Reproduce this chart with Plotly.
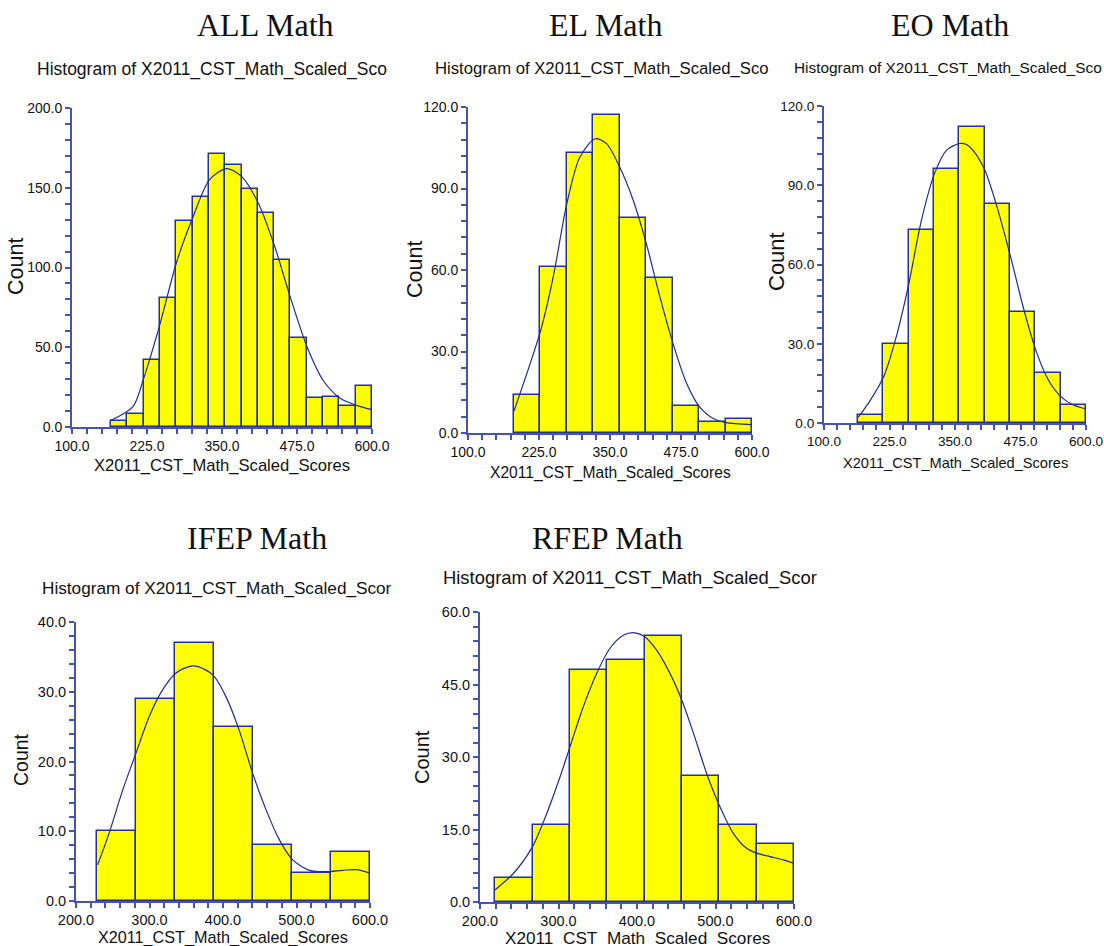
import plotly.graph_objects as go

W, H = 1104, 946

# ---------------- data ----------------
titles = ["ALL Math", "EL Math", "EO Math", "IFEP Math", "RFEP Math"]
subtitles = ["Histogram of X2011_CST_Math_Scaled_Sco",
             "Histogram of X2011_CST_Math_Scaled_Sco",
             "Histogram of X2011_CST_Math_Scaled_Sco",
             "Histogram of X2011_CST_Math_Scaled_Scor",
             "Histogram of X2011_CST_Math_Scaled_Scor"]
x_title = "X2011_CST_Math_Scaled_Scores"
y_title = "Count"

# histogram bins: first left edge, last right edge, counts
all_bin_lo, all_bin_hi = 165.0, 600.0
all_counts = [4, 8, 42, 81, 129, 144, 171, 164, 149, 134, 105, 56, 18, 19, 13, 26]
el_bin_lo, el_bin_hi = 181.0, 600.0
el_counts = [14, 61, 103, 117, 79, 57, 10, 4, 5]
eo_bin_lo, eo_bin_hi = 165.0, 600.0
eo_counts = [3, 30, 73, 96, 112, 83, 42, 19, 7]
ifep_bin_lo, ifep_bin_hi = 228.5, 600.0
ifep_counts = [10, 29, 37, 25, 8, 4, 7]
rfep_bin_lo, rfep_bin_hi = 219.5, 600.0
rfep_counts = [5, 16, 48, 50, 55, 26, 16, 12]

# density trace
all_curve_x = [165, 202, 219, 247, 274, 301, 329, 358, 383, 411, 438, 465, 492, 519, 547, 574, 600]
all_curve_y = [4.2, 13, 30, 65, 103, 131, 155, 162, 157, 140, 113, 80, 50, 29, 18, 13.6, 10.9]
el_curve_x = [181, 228, 250, 274, 297, 324, 344, 367, 391, 414, 438, 461, 485, 507, 532, 554, 600]
el_curve_y = [8.1, 37.8, 57.4, 84.4, 101.6, 108.3, 106.5, 97.9, 85.6, 69.7, 50, 32.9, 18.2, 9.8, 5.3, 3.8, 3.1]
eo_curve_x = [165, 187, 214, 238, 262, 286, 311, 334, 359, 372, 384, 407, 432, 456, 480, 504, 528, 552, 575, 600]
eo_curve_y = [2.1, 8.2, 17.6, 32.7, 52.9, 76.8, 94.5, 103.3, 105.8, 105.4, 103.3, 95.7, 80.6, 63, 44, 27.7, 16.4, 10, 6.9, 5.3]
ifep_curve_x = [229.5, 245, 263.5, 281.6, 299.8, 318, 336, 358.7, 377, 388, 404, 422, 440.4, 458.5, 476.6, 494.8, 517.5, 540, 563, 581, 600]
ifep_curve_y = [5.2, 9.7, 15.9, 21.2, 26.5, 30.3, 32.7, 33.7, 33.1, 32.2, 29.3, 24.5, 18.3, 13.1, 8.8, 5.9, 4.4, 4.2, 4.4, 4.5, 4.0]
rfep_curve_x = [219, 242.5, 266.7, 285, 302, 314.6, 331.6, 348.6, 365.6, 382.6, 397.5, 410, 425, 442, 457, 472, 488.7, 505.7, 522.7, 539.7, 552.4, 569.4, 586.4, 600]
rfep_curve_y = [2.5, 5.9, 11.4, 18.3, 25.9, 32.1, 40.4, 47.3, 52.5, 55.2, 55.7, 54.9, 52.1, 47.3, 41.8, 34.9, 26.6, 19.7, 14.2, 11.1, 10.1, 9.4, 8.7, 8.0]

# axis ranges / ticks
x_ranges = [[100, 600], [100, 600], [100, 600], [200, 600], [200, 600]]
x_dticks = [125, 125, 125, 100, 100]
x_minor = [25, 25, 25, 20, 20]
y_ranges = [[0, 200], [0, 120], [0, 120], [0, 40], [0, 60]]
y_dticks = [50, 30, 30, 10, 15]
y_minor = [10, 6, 6, 2, 3]

# ---------------- layout geometry (pixels) ----------------
plot_boxes = [  # x0, x1, ytop, ybottom
    (72, 372, 108, 427),
    (468, 752, 107, 433),
    (824, 1086, 106, 423),
    (76, 370, 622, 901),
    (480, 794, 612, 902),
]
title_pos = [(265, 25), (605, 25), (950, 25), (257, 538), (607, 538)]
sub_pos = [(35, 70), (433, 68), (792, 67), (40, 588), (441, 578)]
sub_size = [17.5, 16.7, 15.4, 17.2, 18.4]
xt_pos = [(222, 465), (610, 473), (955, 463), (223, 937), (637, 938)]
xt_size = [16.6, 15.6, 14.6, 16.2, 17.2]
yt_pos = [(16, 267), (415, 270), (776, 262), (21, 760), (422, 757)]
yt_size = [21.5, 21.5, 22, 19.5, 20]
tick_size = [14, 14, 13.6, 14.5, 14.5]

SANS = "Liberation Sans, Arial"
SERIF = "Liberation Serif, Times New Roman"
AXIS_COLOR = "#4453b8"
BAR_LINE = "#25309c"
CURVE = "#1f2a96"

bins = [
    (all_bin_lo, all_bin_hi, all_counts),
    (el_bin_lo, el_bin_hi, el_counts),
    (eo_bin_lo, eo_bin_hi, eo_counts),
    (ifep_bin_lo, ifep_bin_hi, ifep_counts),
    (rfep_bin_lo, rfep_bin_hi, rfep_counts),
]
curves = [
    (all_curve_x, all_curve_y),
    (el_curve_x, el_curve_y),
    (eo_curve_x, eo_curve_y),
    (ifep_curve_x, ifep_curve_y),
    (rfep_curve_x, rfep_curve_y),
]


def px(x):
    return x / W


def py(y):
    return 1 - y / H


fig = go.Figure()
layout = {}
annotations = []

for i in range(5):
    sfx = "" if i == 0 else str(i + 1)
    xa, ya = "x" + sfx, "y" + sfx
    lo, hi, counts = bins[i]
    n = len(counts)
    w = (hi - lo) / n
    lefts = [lo + w * k for k in range(n)]
    fig.add_trace(go.Bar(
        x=lefts, y=counts, width=[w] * n, offset=0,
        marker=dict(color="#ffff00", line=dict(color=BAR_LINE, width=1.5)),
        xaxis=xa, yaxis=ya, showlegend=False, cliponaxis=False,
        hoverinfo="skip",
    ))
    cx, cy = curves[i]
    fig.add_trace(go.Scatter(
        x=cx, y=cy, mode="lines", line=dict(color=CURVE, width=1.2, shape="spline", smoothing=0.8),
        xaxis=xa, yaxis=ya, showlegend=False, cliponaxis=False, hoverinfo="skip",
    ))
    x0, x1, yt, yb = plot_boxes[i]
    common = dict(
        ticks="outside", ticklen=5, tickcolor=AXIS_COLOR, tickwidth=1.5,
        showline=True, linecolor=AXIS_COLOR, linewidth=2,
        showgrid=False, zeroline=False, fixedrange=True, automargin=False,
        tickformat=".1f",
        tickfont=dict(family=SANS, size=tick_size[i], color="#111111"),
    )
    layout["xaxis" + sfx] = dict(
        domain=[px(x0), px(x1)], range=x_ranges[i], anchor=ya,
        tick0=x_ranges[i][0], dtick=x_dticks[i],
        minor=dict(dtick=x_minor[i], tick0=x_ranges[i][0], ticks="outside",
                   ticklen=5, tickcolor=AXIS_COLOR, tickwidth=1.5, showgrid=False),
        **common,
    )
    layout["yaxis" + sfx] = dict(
        domain=[py(yb), py(yt)], range=y_ranges[i], anchor=xa,
        tick0=0, dtick=y_dticks[i],
        minor=dict(dtick=y_minor[i], tick0=0, ticks="outside",
                   ticklen=5, tickcolor=AXIS_COLOR, tickwidth=1.5, showgrid=False),
        **common,
    )
    tx, ty = title_pos[i]
    annotations.append(dict(text=titles[i], x=px(tx), y=py(ty), xref="paper", yref="paper",
                            xanchor="center", yanchor="middle", showarrow=False,
                            font=dict(family=SERIF, size=32, color="#111111")))
    sx, sy = sub_pos[i]
    annotations.append(dict(text=subtitles[i], x=px(sx), y=py(sy), xref="paper", yref="paper",
                            xanchor="left", yanchor="middle", showarrow=False,
                            font=dict(family=SANS, size=sub_size[i], color="#111111")))
    ax_, ay_ = xt_pos[i]
    annotations.append(dict(text=x_title, x=px(ax_), y=py(ay_), xref="paper", yref="paper",
                            xanchor="center", yanchor="middle", showarrow=False,
                            font=dict(family=SANS, size=xt_size[i], color="#111111")))
    bx, by = yt_pos[i]
    annotations.append(dict(text=y_title, x=px(bx), y=py(by), xref="paper", yref="paper",
                            xanchor="center", yanchor="middle", showarrow=False, textangle=-90,
                            font=dict(family=SANS, size=yt_size[i], color="#111111")))

fig.update_layout(
    width=W, height=H, margin=dict(l=0, r=0, t=0, b=0, autoexpand=False),
    paper_bgcolor="white", plot_bgcolor="white",
    bargap=0, annotations=annotations, **layout,
)

fig.write_html("out.html", config={"displayModeBar": False})
